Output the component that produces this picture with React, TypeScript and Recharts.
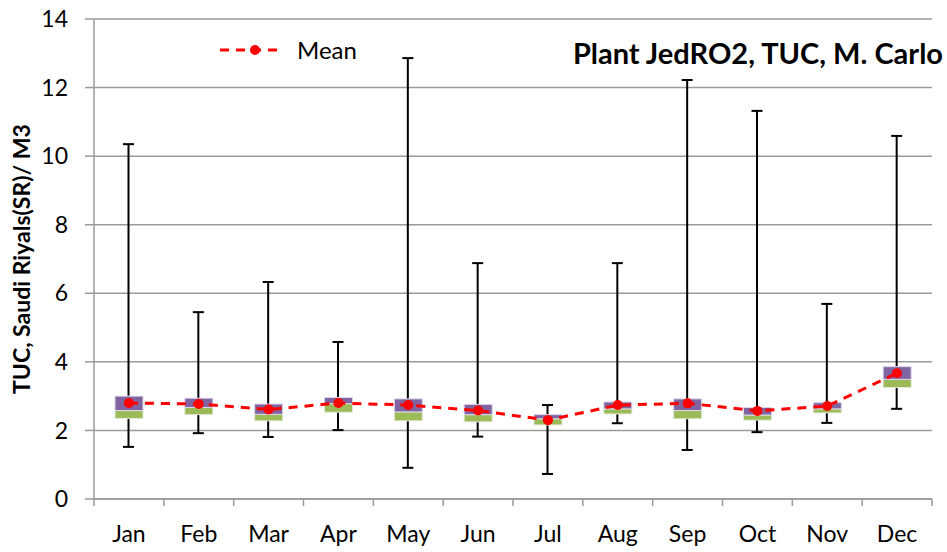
import {
  ComposedChart,
  Bar,
  Line,
  XAxis,
  YAxis,
  CartesianGrid,
} from 'recharts'

// Monthly TUC distribution (Monte Carlo), SR / m3
const months = ['Jan', 'Feb', 'Mar', 'Apr', 'May', 'Jun', 'Jul', 'Aug', 'Sep', 'Oct', 'Nov', 'Dec']
const minVals = [1.52, 1.92, 1.81, 2.01, 0.91, 1.82, 0.73, 2.21, 1.43, 1.95, 2.22, 2.63]
const maxVals = [10.35, 5.45, 6.33, 4.58, 12.86, 6.88, 2.74, 6.88, 12.22, 11.32, 5.69, 10.59]
const q1Vals = [2.35, 2.46, 2.28, 2.53, 2.28, 2.25, 2.16, 2.48, 2.34, 2.3, 2.51, 3.25]
const medianVals = [2.58, 2.67, 2.47, 2.78, 2.54, 2.46, 2.34, 2.63, 2.58, 2.45, 2.63, 3.49]
const q3Vals = [3.0, 2.94, 2.77, 2.96, 2.92, 2.76, 2.46, 2.83, 2.92, 2.67, 2.81, 3.86]
const meanVals = [2.8, 2.77, 2.61, 2.8, 2.74, 2.58, 2.3, 2.74, 2.79, 2.57, 2.71, 3.67]
const yTicks = [0, 2, 4, 6, 8, 10, 12, 14]

const GRID = '#9a9a9a'
const GREEN = '#9BBB59'
const PURPLE = '#8064A2'
const RED = '#FF0000'
const FONT = 'Lato, "Open Sans", sans-serif'

const data = months.map((month, i) => ({
  month,
  min: minVals[i],
  max: maxVals[i],
  q1: q1Vals[i],
  median: medianVals[i],
  q3: q3Vals[i],
  mean: meanVals[i],
}))

// whisker: vertical line from min to max with caps at both ends
function Whisker(props: any) {
  const { x, y, width, height } = props
  if (x == null || y == null) return null
  const cx = x + width / 2
  return (
    <g stroke="#000" strokeWidth={2}>
      <line x1={cx} x2={cx} y1={y} y2={y + height} />
      <line x1={x} x2={x + width} y1={y} y2={y} />
      <line x1={x} x2={x + width} y1={y + height} y2={y + height} />
    </g>
  )
}

// category tick: label in the middle, tick marks on the category boundaries
function MonthTick(props: any) {
  const { x, y, payload, index } = props
  const half = payload?.offset || 34.9
  return (
    <g>
      <line x1={x - half} x2={x - half} y1={y} y2={y + 7} stroke={GRID} strokeWidth={1.5} />
      {index === months.length - 1 && (
        <line x1={x + half} x2={x + half} y1={y} y2={y + 7} stroke={GRID} strokeWidth={1.5} />
      )}
      <text x={x} y={y + 43} textAnchor="middle" fill="#000" fontSize={23} fontFamily={FONT}>
        {payload.value}
      </text>
    </g>
  )
}

export default function App() {
  return (
    <div style={{ position: 'relative', width: 947, height: 552, background: '#fff' }}>
      <style>{'body{margin:0}'}</style>
      <ComposedChart
        width={947}
        height={552}
        data={data}
        margin={{ top: 19, right: 15, left: 0, bottom: 13 }}
        barGap={0}
      >
        <CartesianGrid horizontal vertical={false} stroke={GRID} strokeWidth={1.5} />
        <XAxis
          dataKey="month"
          tickLine={false}
          tickSize={0}
          tickMargin={0}
          height={40}
          stroke={GRID}
          strokeWidth={1.5}
          tick={<MonthTick />}
          interval={0}
        />
        <XAxis dataKey="month" xAxisId="w" hide />
        <YAxis
          domain={[0, 14]}
          ticks={yTicks}
          width={94}
          tickSize={9}
          tickMargin={17}
          stroke={GRID}
          strokeWidth={1.5}
          tick={{ fill: '#000', fontSize: 23, fontFamily: FONT }}
          label={{
            value: 'TUC, Saudi Riyals(SR)/ M3',
            angle: -90,
            position: 'insideLeft',
            offset: 22,
            style: { fill: '#000', fontSize: 23, fontWeight: 700, fontFamily: FONT, textAnchor: 'middle' },
          }}
        />
        <Bar
          xAxisId="w"
          dataKey={(d: any) => [d.min, d.max]}
          barSize={11}
          shape={<Whisker />}
          isAnimationActive={false}
        />
        <Bar dataKey="q1" stackId="box" fill="transparent" barSize={28} isAnimationActive={false} />
        <Bar
          dataKey={(d: any) => d.median - d.q1}
          stackId="box"
          fill={GREEN}
          stroke="#e4e9d6"
          strokeWidth={1}
          barSize={28}
          isAnimationActive={false}
        />
        <Bar
          dataKey={(d: any) => d.q3 - d.median}
          stackId="box"
          fill={PURPLE}
          stroke="#ddd6e8"
          strokeWidth={1}
          barSize={28}
          isAnimationActive={false}
        />
        <Line
          dataKey="mean"
          stroke={RED}
          strokeWidth={3}
          strokeDasharray="9 7"
          dot={{ r: 5, fill: RED, stroke: RED, strokeWidth: 0 }}
          isAnimationActive={false}
        />
      </ComposedChart>

      {/* legend */}
      <div style={{ position: 'absolute', left: 218, top: 34, display: 'flex', alignItems: 'center' }}>
        <svg width={70} height={30}>
          <line x1={2} x2={66} y1={16} y2={16} stroke={RED} strokeWidth={3} strokeDasharray="9 7" />
          <circle cx={37} cy={16} r={5} fill={RED} />
        </svg>
        <span style={{ marginLeft: 9, fontSize: 24, fontFamily: FONT, color: '#000' }}>Mean</span>
      </div>

      {/* title */}
      <div
        style={{
          position: 'absolute',
          right: 4,
          top: 35,
          fontSize: 29,
          fontWeight: 700,
          fontFamily: FONT,
          color: '#000',
          whiteSpace: 'nowrap',
        }}
      >
        Plant JedRO2, TUC, M. Carlo
      </div>
    </div>
  )
}
